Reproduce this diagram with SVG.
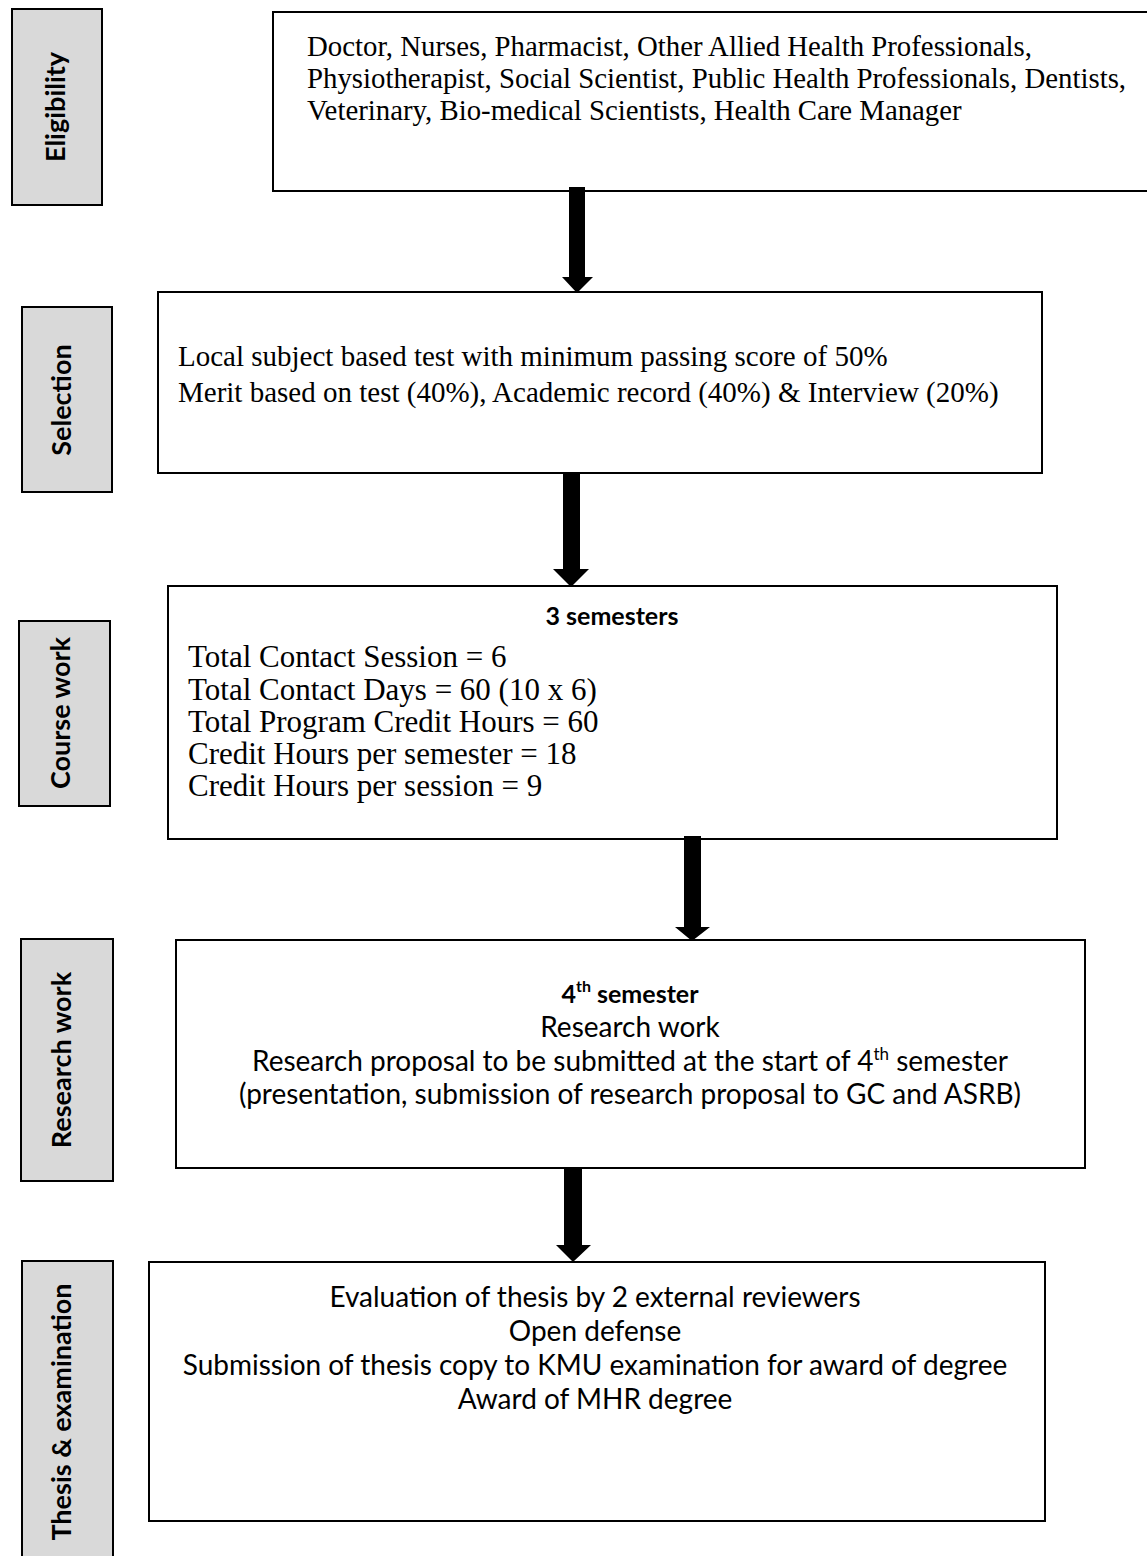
<svg xmlns="http://www.w3.org/2000/svg" width="1147" height="1556" viewBox="0 0 1147 1556">
<style>
.lab{fill:#d9d9d9;stroke:#000;stroke-width:2}
.box{fill:#fff;stroke:#000;stroke-width:2}
.lt{font-family:Lato,"Open Sans","DejaVu Sans",sans-serif;font-weight:bold;font-size:27px;fill:#000;text-anchor:middle}
.hd{font-family:Lato,"Open Sans","DejaVu Sans",sans-serif;font-weight:bold;font-size:25px;fill:#000;text-anchor:middle}
.serif{font-family:"Liberation Serif","Times New Roman",serif;fill:#000}
.sans{font-family:Lato,"Open Sans","DejaVu Sans",sans-serif;font-size:28px;fill:#000;text-anchor:middle}
.arr{fill:#000}
</style>
<rect width="1147" height="1556" fill="#fff"/>

<g id="label-eligibility">
<rect class="lab" x="12" y="9" width="90" height="196"/>
<text class="lt" transform="translate(65,107) rotate(-90)">Eligibility</text>
</g>
<g id="label-selection">
<rect class="lab" x="22" y="307" width="90" height="185"/>
<text class="lt" transform="translate(71,400) rotate(-90)">Selection</text>
</g>
<g id="label-coursework">
<rect class="lab" x="19" y="621" width="91" height="185"/>
<text class="lt" transform="translate(70,713) rotate(-90)">Course work</text>
</g>
<g id="label-research">
<rect class="lab" x="21" y="939" width="92" height="242"/>
<text class="lt" transform="translate(71,1060) rotate(-90)">Research work</text>
</g>
<g id="label-thesis">
<rect class="lab" x="22" y="1261" width="91" height="310"/>
<text class="lt" transform="translate(71,1412) rotate(-90)">Thesis &amp; examination</text>
</g>

<g id="node-eligibility">
<rect class="box" x="273" y="12" width="900" height="179"/>
<text class="serif" font-size="28.8" x="307" y="56">Doctor, Nurses, Pharmacist, Other Allied Health Professionals,</text>
<text class="serif" font-size="28.8" x="307" y="88">Physiotherapist, Social Scientist, Public Health Professionals, Dentists,</text>
<text class="serif" font-size="28.8" x="307" y="120">Veterinary, Bio-medical  Scientists, Health Care Manager</text>
</g>

<g id="node-selection">
<rect class="box" x="158" y="292" width="884" height="181"/>
<text class="serif" font-size="29" x="178" y="366">Local subject based test with minimum passing score of 50%</text>
<text class="serif" font-size="29" x="178" y="402">Merit based on test (40%), Academic record (40%) &amp; Interview (20%)</text>
</g>

<g id="node-coursework">
<rect class="box" x="168" y="586" width="889" height="253"/>
<text class="hd" x="612" y="625">3 semesters</text>
<text class="serif" font-size="31" x="188" y="667">Total Contact Session = 6</text>
<text class="serif" font-size="31" x="188" y="700">Total Contact Days = 60 (10 x 6)</text>
<text class="serif" font-size="31" x="188" y="732">Total Program Credit Hours = 60</text>
<text class="serif" font-size="31" x="188" y="764">Credit Hours per semester = 18</text>
<text class="serif" font-size="31" x="188" y="796">Credit Hours per session = 9</text>
</g>

<g id="node-research">
<rect class="box" x="176" y="940" width="909" height="228"/>
<text class="hd" x="630" y="1003">4<tspan font-size="16" dy="-11">th</tspan><tspan dy="11"> semester</tspan></text>
<text class="sans" x="630" y="1037">Research work</text>
<text class="sans" x="630" y="1071">Research proposal to be submitted at the start of 4<tspan font-size="17" dy="-11">th</tspan><tspan dy="11"> semester</tspan></text>
<text class="sans" x="630" y="1104">(presentation, submission of research proposal to GC and ASRB)</text>
</g>

<g id="node-thesis">
<rect class="box" x="149" y="1262" width="896" height="259"/>
<text class="sans" x="595" y="1307">Evaluation of thesis by 2 external reviewers</text>
<text class="sans" x="595" y="1341">Open defense</text>
<text class="sans" x="595" y="1375">Submission of thesis copy to KMU examination for award of degree</text>
<text class="sans" x="595" y="1409">Award of MHR degree</text>
</g>

<g id="connectors">
<polygon class="arr" points="569,187 585,187 585,277 593,277 577,293 562,277 569,277"/>
<polygon class="arr" points="563,473 580,473 580,569 589,569 571,587 553,569 563,569"/>
<polygon class="arr" points="684,836 701,836 701,927 710,927 692,941 675,927 684,927"/>
<polygon class="arr" points="564,1168 582,1168 582,1245 591,1245 573,1262 556,1245 564,1245"/>
</g>
</svg>
